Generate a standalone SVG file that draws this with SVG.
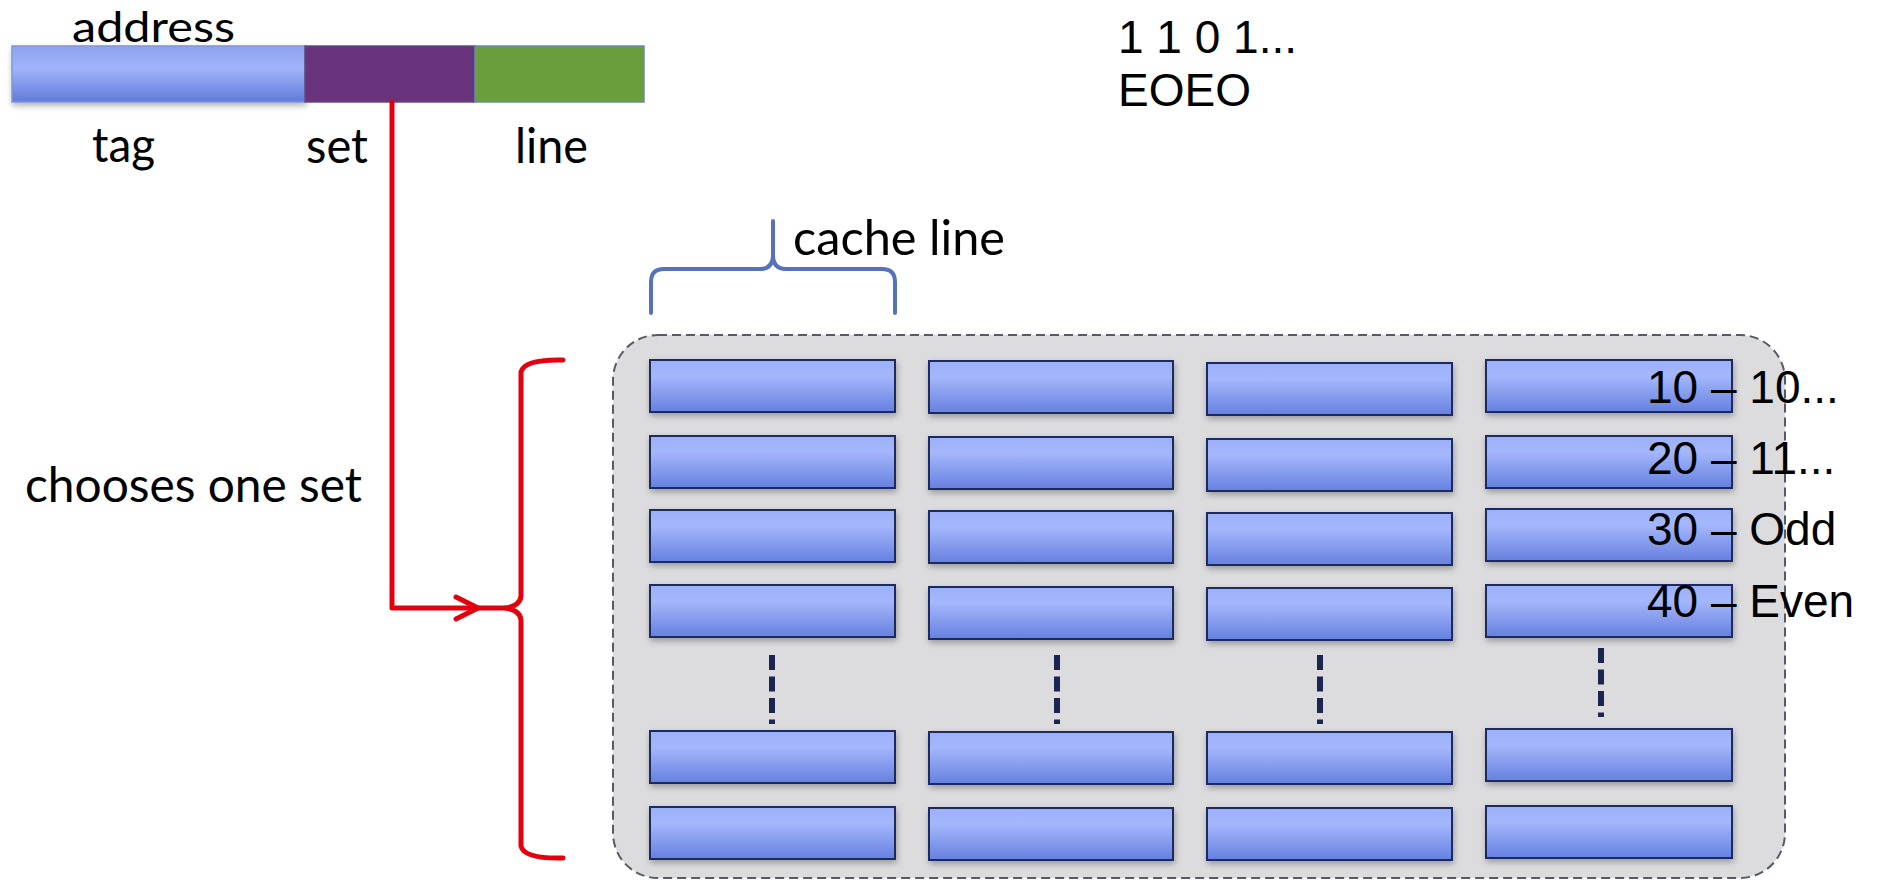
<svg xmlns="http://www.w3.org/2000/svg" width="1881" height="882" viewBox="0 0 1881 882">
<defs>
<linearGradient id="gBox" x1="0" y1="0" x2="0" y2="1">
<stop offset="0" stop-color="#9cb0f8"/>
<stop offset="0.3" stop-color="#a5b7fc"/>
<stop offset="1" stop-color="#6580df"/>
</linearGradient>
<linearGradient id="gTag" x1="0" y1="0" x2="0" y2="1">
<stop offset="0" stop-color="#8ea2ee"/>
<stop offset="0.4" stop-color="#a0b3fb"/>
<stop offset="1" stop-color="#5f7cd9"/>
</linearGradient>
<filter id="sh" x="-10%" y="-30%" width="120%" height="170%">
<feDropShadow dx="1" dy="3" stdDeviation="3" flood-color="#000" flood-opacity="0.3"/>
</filter>
</defs>
<style>
.cal{font-family:Lato,"Open Sans","DejaVu Sans",sans-serif;font-size:48px;fill:#000}
.ari{font-family:"Liberation Sans",Arial,sans-serif;font-size:46px;fill:#000}
.box{fill:url(#gBox);stroke:#1f2c5e;stroke-width:2;filter:url(#sh)}
.dots{stroke:#1c2550;stroke-width:6;stroke-dasharray:15 6.5;fill:none}
.red{fill:none;stroke:#e3000f;stroke-width:5;stroke-linecap:round;stroke-linejoin:round}
</style>
<rect width="1881" height="882" fill="#fff"/>

<g id="address">
<text class="cal" x="72" y="42" style="font-size:43px" textLength="163" lengthAdjust="spacingAndGlyphs">address</text>
<rect x="12" y="46" width="293" height="56" fill="url(#gTag)" stroke="#8095dc" stroke-width="1.5" filter="url(#sh)"/>
<rect x="305" y="46" width="170" height="56" fill="#68337a" stroke="#5d4c85" stroke-width="1.5"/>
<rect x="475" y="46" width="169" height="56" fill="#6a9e3c" stroke="#6a86b8" stroke-width="1.5"/>
<text class="cal" x="92" y="162" textLength="63" lengthAdjust="spacingAndGlyphs">tag</text>
<text class="cal" x="306" y="163" textLength="62" lengthAdjust="spacingAndGlyphs">set</text>
<text class="cal" x="515" y="163" textLength="73" lengthAdjust="spacingAndGlyphs">line</text>
</g>

<g id="bits">
<text class="ari" x="1118" y="53">1 1 0 1...</text>
<text class="ari" x="1118" y="106">EOEO</text>
</g>

<g id="chooses-label">
<text class="cal" x="25" y="502" textLength="337" lengthAdjust="spacingAndGlyphs">chooses one set</text>
</g>

<g id="cache-line-label">
<path d="M651,313 V282 Q651,269 664,269 H760 Q773,269 773,255 V221 M773,255 Q773,269 786,269 H882 Q895,269 895,282 V313" fill="none" stroke="#5672bb" stroke-width="4" stroke-linecap="round"/>
<text class="cal" x="793" y="255" textLength="212" lengthAdjust="spacingAndGlyphs">cache line</text>
</g>

<g id="cache">
<rect x="613" y="335" width="1172" height="543" rx="45" ry="45" fill="#dcdbde" stroke="#555a66" stroke-width="2" stroke-dasharray="9 5"/>
<g id="col1">
<rect class="box" x="650" y="360" width="245" height="52"/>
<rect class="box" x="650" y="436" width="245" height="52"/>
<rect class="box" x="650" y="510" width="245" height="52"/>
<rect class="box" x="650" y="585" width="245" height="52"/>
<rect class="box" x="650" y="731" width="245" height="52"/>
<rect class="box" x="650" y="807" width="245" height="52"/>
</g>
<g id="col2">
<rect class="box" x="929" y="361" width="244" height="52"/>
<rect class="box" x="929" y="437" width="244" height="52"/>
<rect class="box" x="929" y="511" width="244" height="52"/>
<rect class="box" x="929" y="587" width="244" height="52"/>
<rect class="box" x="929" y="732" width="244" height="52"/>
<rect class="box" x="929" y="808" width="244" height="52"/>
</g>
<g id="col3">
<rect class="box" x="1207" y="363" width="245" height="52"/>
<rect class="box" x="1207" y="439" width="245" height="52"/>
<rect class="box" x="1207" y="513" width="245" height="52"/>
<rect class="box" x="1207" y="588" width="245" height="52"/>
<rect class="box" x="1207" y="732" width="245" height="52"/>
<rect class="box" x="1207" y="808" width="245" height="52"/>
</g>
<g id="col4">
<rect class="box" x="1486" y="360" width="246" height="52"/>
<rect class="box" x="1486" y="436" width="246" height="52"/>
<rect class="box" x="1486" y="509" width="246" height="52"/>
<rect class="box" x="1486" y="585" width="246" height="52"/>
<rect class="box" x="1486" y="729" width="246" height="52"/>
<rect class="box" x="1486" y="806" width="246" height="52"/>
</g>
<g id="ellipsis">
<line class="dots" x1="772" y1="655" x2="772" y2="724"/>
<line class="dots" x1="1057" y1="655" x2="1057" y2="724"/>
<line class="dots" x1="1320" y1="655" x2="1320" y2="724"/>
<line class="dots" x1="1601" y1="648" x2="1601" y2="717"/>
</g>
</g>

<g id="mapping">
<text class="ari" x="1647" y="403">10 – 10...</text>
<text class="ari" x="1647" y="474">20 – 11...</text>
<text class="ari" x="1647" y="545">30 – Odd</text>
<text class="ari" x="1647" y="617">40 – Even</text>
</g>

<g id="set-bracket">
<path class="red" d="M563,360 Q524,359 521,372 V596 Q520,606 505,608 Q520,610 521,620 V846 Q524,859 563,858"/>
</g>

<g id="connectors">
<path class="red" d="M392,102 V608 H505" stroke-linejoin="miter"/>
<path class="red" d="M456,597 L478,608 L456,619"/>
</g>
</svg>
